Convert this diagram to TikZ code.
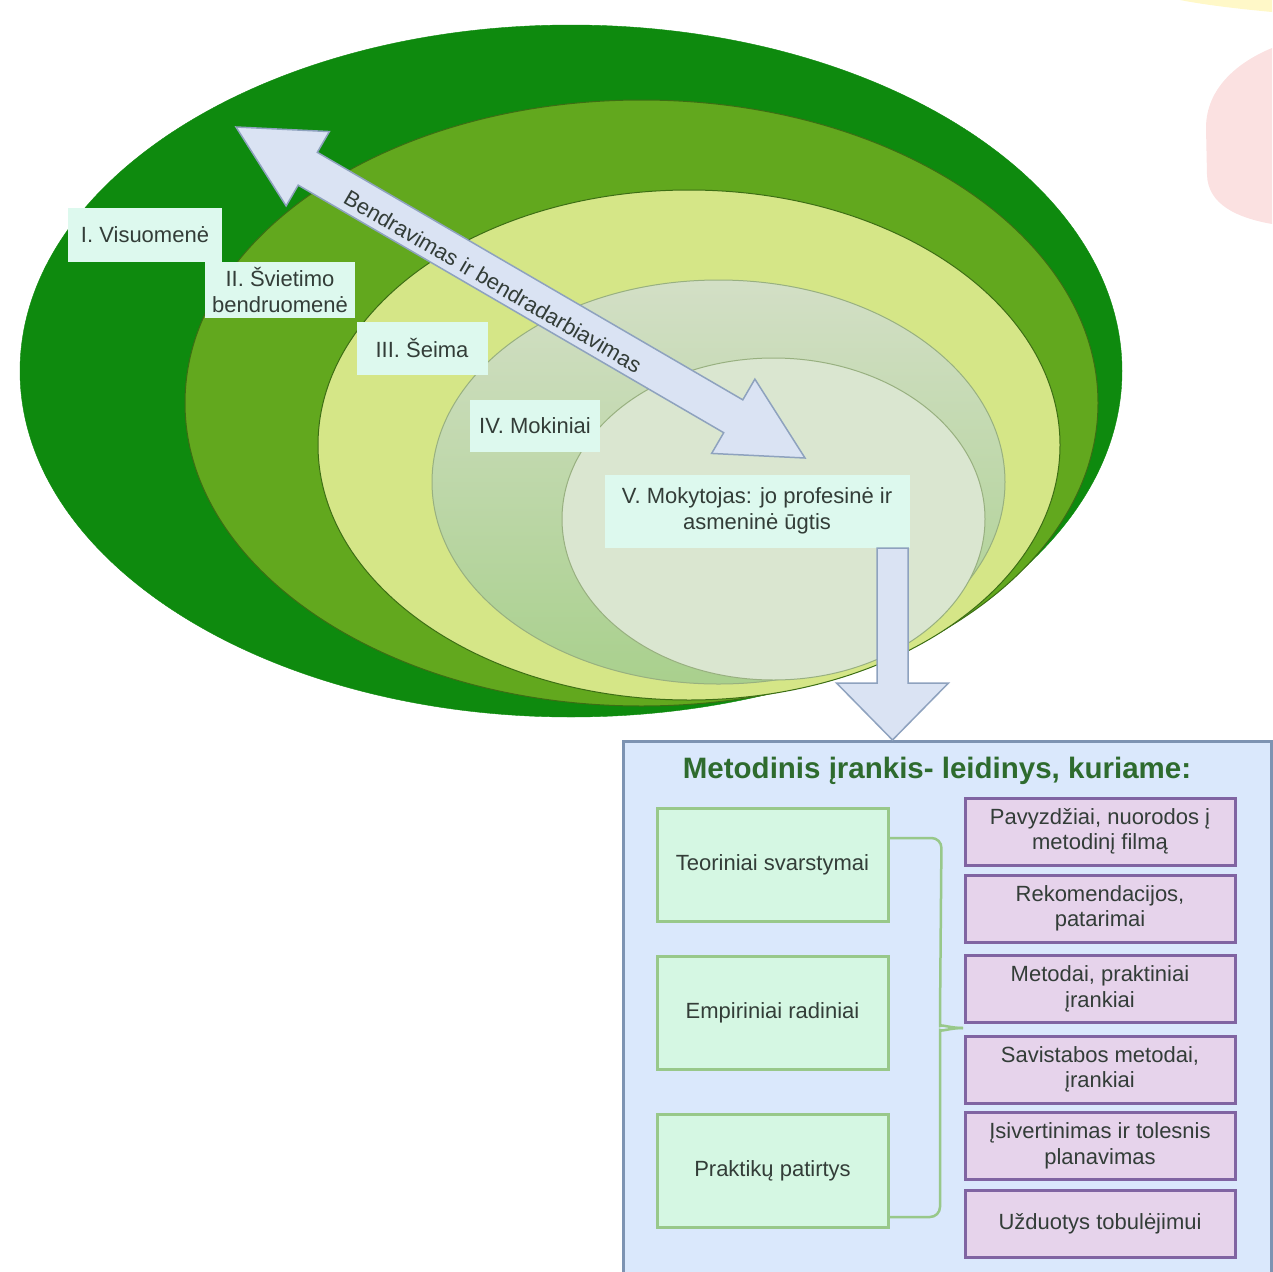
\documentclass[tikz,border=0pt]{standalone}
\usepackage{fontspec}
\setmainfont{Liberation Sans}
\usetikzlibrary{calc}
\definecolor{eone}{HTML}{0E8A0E}
\definecolor{etwo}{HTML}{62A81E}
\definecolor{ethree}{HTML}{D5E687}
\definecolor{efourtop}{HTML}{D3DFC6}
\definecolor{efourbot}{HTML}{A9D08D}
\definecolor{efive}{HTML}{DAE6D0}
\definecolor{elineA}{HTML}{3C6E14}
\definecolor{elineB}{HTML}{98B080}
\definecolor{labelfill}{HTML}{DDF9EE}
\definecolor{txt}{HTML}{333D38}
\definecolor{arrowfill}{HTML}{DAE3F3}
\definecolor{arrowline}{HTML}{8EA2BE}
\definecolor{toolfill}{HTML}{DAE8FC}
\definecolor{toolline}{HTML}{7D93B2}
\definecolor{greenfill}{HTML}{D5F7E3}
\definecolor{greenline}{HTML}{98C88A}
\definecolor{purplefill}{HTML}{E6D3EB}
\definecolor{purpleline}{HTML}{8064A2}
\definecolor{titlegreen}{HTML}{2E6B2E}
\definecolor{decoyellow}{HTML}{FFF8C8}
\definecolor{decopink}{HTML}{FBE1E1}
\tikzset{
  fnt/.style={font=\fontsize{22}{25.5}\selectfont, text=txt},
  levellabel/.style={fnt, fill=labelfill, inner sep=0pt, align=center},
  blockarrow/.style={fill=arrowfill, draw=arrowline, line width=1.5pt, line join=miter},
  greenbox/.style={fnt, draw=greenline, fill=greenfill, line width=3pt, minimum width=231pt, minimum height=113pt, align=center},
  purplebox/.style={fnt, draw=purpleline, fill=purplefill, line width=3pt, minimum width=270pt, minimum height=67pt, align=center, inner sep=2pt},
  bracestyle/.style={draw=greenline, line width=2.5pt, rounded corners=10pt}
}
\begin{document}
\begin{tikzpicture}[x=1pt,y=-1pt]
\useasboundingbox (0,0) rectangle (1272,1272);
% decorations top right
\fill[decoyellow] (1180,0) -- (1272,0) -- (1272,12) .. controls (1240,9) and (1205,5) .. cycle;
\fill[decopink] (1272,48) .. controls (1238,62) and (1206,88) .. (1206,128) -- (1207,175) .. controls (1208,205) and (1238,218) .. (1272,224) -- cycle;
% nested ellipses
\filldraw[fill=eone, draw=eone] (571,371) ellipse [x radius=551, y radius=346];
\filldraw[fill=etwo, draw=elineA, line width=1pt] (641.5,403) ellipse [x radius=456.5, y radius=303];
\filldraw[fill=ethree, draw=elineA, line width=1pt] (689,445) ellipse [x radius=371, y radius=255];
\shade[top color=efourtop, bottom color=efourbot] (718.5,482) ellipse [x radius=286.5, y radius=202];
\draw[elineB, line width=1pt] (718.5,482) ellipse [x radius=286.5, y radius=202];
\filldraw[fill=efive, draw=elineB, line width=1pt] (773.5,519) ellipse [x radius=211.5, y radius=161];
% double block arrow
\coordinate (A) at (236,127);
\coordinate (B) at (805,458);
\coordinate (A1) at ($(A)!83pt!(B)$);
\coordinate (B1) at ($(B)!83pt!(A)$);
\draw[blockarrow] (A) -- ($(A1)!43pt!90:(B)$) -- ($(A1)!19pt!90:(B)$) -- ($(B1)!19pt!-90:(A)$) -- ($(B1)!43pt!-90:(A)$) -- (B)
  -- ($(B1)!43pt!90:(A)$) -- ($(B1)!19pt!90:(A)$) -- ($(A1)!19pt!-90:(B)$) -- ($(A1)!43pt!-90:(B)$) -- cycle;
\node[fnt, rotate=-30.2, inner sep=0pt] (comm) at ($($(A)!0.455!(B)$)+(-2,4)$) {Bendravimas ir bendradarbiavimas};
% level labels
\node[levellabel, minimum width=154pt, minimum height=54pt] (l1) at (145,235) {I. Visuomenė};
\node[levellabel, minimum width=150pt, minimum height=56pt] (l2) at (280,290) {II. Švietimo\\bendruomenė};
\node[levellabel, minimum width=131pt, minimum height=53pt] (l3) at (422,348) {III. Šeima};
\node[levellabel, minimum width=130pt, minimum height=52pt] (l4) at (535,426) {IV. Mokiniai};
\node[levellabel, minimum width=305pt, minimum height=73pt] (l5) at (757,511) {V. Mokytojas: jo profesinė ir\\asmeninė ūgtis};
% tool box
\node[draw=toolline, fill=toolfill, line width=2.5pt, minimum width=648pt, minimum height=560pt, anchor=north west, inner sep=0pt] (tool) at (622,740) {};
% down arrow
\coordinate (dtop) at (892.5,548);
\coordinate (dtip) at (892.5,740);
\draw[blockarrow] ($(dtop)+(-15.5,0)$) -- ($(dtop)+(15.5,0)$) -- ($(dtip)+(15.5,-57)$) -- ($(dtip)+(56,-57)$) -- (dtip)
  -- ($(dtip)+(-56,-57)$) -- ($(dtip)+(-15.5,-57)$) -- cycle;
\node[font=\bfseries\fontsize{29.5}{33}\selectfont, text=titlegreen, inner sep=0pt] (ttl) at (937,771) {Metodinis įrankis- leidinys, kuriame:};
% green boxes
\node[greenbox] (g1) at (772.5,864.5) {Teoriniai svarstymai};
\node[greenbox] (g2) at (772.5,1013) {Empiriniai radiniai};
\node[greenbox] (g3) at (772.5,1171) {Praktikų patirtys};
% purple boxes
\node[purplebox] (p1) at (1100,831.5) {Pavyzdžiai, nuorodos į\\metodinį filmą};
\node[purplebox] (p2) at (1100,908.5) {Rekomendacijos,\\patarimai};
\node[purplebox] (p3) at (1100,989) {Metodai, praktiniai\\įrankiai};
\node[purplebox] (p4) at (1100,1069.5) {Savistabos metodai,\\įrankiai};
\node[purplebox] (p5) at (1100,1146) {Įsivertinimas ir tolesnis\\planavimas};
\node[purplebox] (p6) at (1100,1223.5) {Užduotys tobulėjimui};
% brace
\coordinate (btip) at (963,1028);
\draw[bracestyle] ($(g1.east)+(0,-26.5)$) -- ++(52,0) -- (940,1016) .. controls (940,1024) and (950,1028) .. (btip);
\draw[bracestyle] (btip) .. controls (950,1028) and (940,1032) .. (940,1040) -- (940,1217) -- ($(g3.east)+(0,46)$);
\end{tikzpicture}
\end{document}
